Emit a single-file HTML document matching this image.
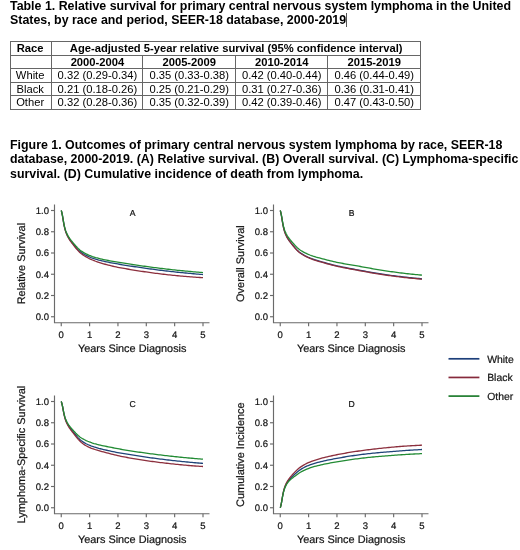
<!DOCTYPE html>
<html><head><meta charset="utf-8"><title>Table 1 / Figure 1</title>
<style>
html,body{margin:0;padding:0;background:#fff;}
#wrap{position:absolute;left:0;top:0;width:520px;height:550px;will-change:transform;}
body{width:520px;height:550px;position:relative;overflow:hidden;font-family:"Liberation Sans",sans-serif;color:#000;}
.cap{position:absolute;left:10px;font-weight:bold;font-size:12.4px;line-height:14.15px;white-space:nowrap;margin:0;}
#t1{top:-1.3px;}
#f1{top:138.2px;}
.cur{display:inline-block;width:1px;height:14px;background:#555;vertical-align:-3.5px;margin-left:-0.6px}
table{position:absolute;left:10px;top:41px;border-collapse:collapse;font-size:11.2px;line-height:12.6px;table-layout:fixed;width:410.5px;}
td,th{border:1px solid #666;padding:0;text-align:center;height:12.6px;white-space:nowrap;overflow:hidden}
th{font-weight:bold}
svg text{font-family:"Liberation Sans",sans-serif;text-rendering:geometricPrecision;}
td:first-child,th:first-child{padding-right:2px}
</style></head><body><div id="wrap">
<p class="cap" id="t1">Table 1. Relative survival for primary central nervous system lymphoma in the United<br>States, by race and period, SEER-18 database, 2000-2019<span class="cur"></span></p>
<table>
<colgroup><col style="width:41.3px"><col style="width:91.2px"><col style="width:92.5px"><col style="width:92.5px"><col style="width:92.5px"></colgroup>
<tr><th>Race</th><th colspan="4">Age-adjusted 5-year relative survival (95% confidence interval)</th></tr>
<tr><th></th><th>2000-2004</th><th>2005-2009</th><th>2010-2014</th><th>2015-2019</th></tr>
<tr><td>White</td><td>0.32 (0.29-0.34)</td><td>0.35 (0.33-0.38)</td><td>0.42 (0.40-0.44)</td><td>0.46 (0.44-0.49)</td></tr><tr><td>Black</td><td>0.21 (0.18-0.26)</td><td>0.25 (0.21-0.29)</td><td>0.31 (0.27-0.36)</td><td>0.36 (0.31-0.41)</td></tr><tr><td>Other</td><td>0.32 (0.28-0.36)</td><td>0.35 (0.32-0.39)</td><td>0.42 (0.39-0.46)</td><td>0.47 (0.43-0.50)</td></tr>
</table>
<p class="cap" id="f1">Figure 1. Outcomes of primary central nervous system lymphoma by race, SEER-18<br>database, 2000-2019. (A) Relative survival. (B) Overall survival. (C) Lymphoma-specific<br>survival. (D) Cumulative incidence of death from lymphoma.</p>
<svg width="520" height="550" viewBox="0 0 520 550" style="position:absolute;left:0;top:0" font-family="Liberation Sans, sans-serif" fill="#151515" stroke="#151515" stroke-width="0.22">
<g stroke="#6a6a6a" stroke-width="1.15" fill="none">
<path d="M54.50 204.50 V322.75 H209.50"/>
<path d="M51.00 316.75 H54.50"/>
<path d="M61.25 322.75 V326.25"/>
<path d="M51.00 295.50 H54.50"/>
<path d="M89.60 322.75 V326.25"/>
<path d="M51.00 274.25 H54.50"/>
<path d="M117.95 322.75 V326.25"/>
<path d="M51.00 253.00 H54.50"/>
<path d="M146.30 322.75 V326.25"/>
<path d="M51.00 231.75 H54.50"/>
<path d="M174.65 322.75 V326.25"/>
<path d="M51.00 210.50 H54.50"/>
<path d="M203.00 322.75 V326.25"/>
</g>
<g font-size="9.5">
<text x="49.00" y="320.15" text-anchor="end">0.0</text>
<text x="61.25" y="338.30" text-anchor="middle">0</text>
<text x="49.00" y="298.90" text-anchor="end">0.2</text>
<text x="89.60" y="338.30" text-anchor="middle">1</text>
<text x="49.00" y="277.65" text-anchor="end">0.4</text>
<text x="117.95" y="338.30" text-anchor="middle">2</text>
<text x="49.00" y="256.40" text-anchor="end">0.6</text>
<text x="146.30" y="338.30" text-anchor="middle">3</text>
<text x="49.00" y="235.15" text-anchor="end">0.8</text>
<text x="174.65" y="338.30" text-anchor="middle">4</text>
<text x="49.00" y="213.90" text-anchor="end">1.0</text>
<text x="203.00" y="338.30" text-anchor="middle">5</text>
</g>
<text x="132.20" y="351.80" text-anchor="middle" font-size="10.9">Years Since Diagnosis</text>
<text transform="translate(24.80 263.62) rotate(-90)" text-anchor="middle" font-size="10.95">Relative Survival</text>
<text x="132.50" y="215.50" text-anchor="middle" font-size="8.6">A</text>
<g fill="none" stroke-width="1.3" stroke-linejoin="round">
<path stroke="#1f4478" d="M61.25 210.50 L61.25 210.50 L61.26 210.52 L61.27 210.55 L61.29 210.60 L61.32 210.67 L61.35 210.76 L61.38 210.88 L61.42 211.02 L61.47 211.19 L61.52 211.38 L61.58 211.60 L61.64 211.86 L61.71 212.14 L61.78 212.46 L61.86 212.80 L61.95 213.18 L62.04 213.59 L62.13 214.03 L62.23 214.51 L62.34 215.04 L62.45 215.64 L62.57 216.29 L62.69 217.00 L62.82 217.76 L62.95 218.57 L63.09 219.42 L63.24 220.30 L63.39 221.21 L63.54 222.12 L63.70 223.04 L63.87 223.96 L64.04 224.86 L64.22 225.73 L64.40 226.58 L64.59 227.39 L64.78 228.18 L64.98 228.94 L65.19 229.67 L65.40 230.37 L65.61 231.05 L65.83 231.70 L66.06 232.33 L66.29 232.94 L66.53 233.52 L66.77 234.09 L67.02 234.65 L67.27 235.19 L67.53 235.71 L67.79 236.23 L68.06 236.73 L68.34 237.22 L68.62 237.71 L68.91 238.19 L69.20 238.66 L69.49 239.12 L69.80 239.58 L70.11 240.03 L70.42 240.48 L70.74 240.91 L71.06 241.35 L71.39 241.78 L71.73 242.21 L72.07 242.64 L72.41 243.08 L72.77 243.53 L73.12 243.97 L73.48 244.42 L73.85 244.88 L74.23 245.34 L74.61 245.80 L74.99 246.26 L75.38 246.72 L75.77 247.18 L76.17 247.65 L76.58 248.11 L76.99 248.57 L77.41 249.02 L77.83 249.47 L78.26 249.91 L79.84 251.39 L81.42 252.58 L83.00 253.61 L84.58 254.55 L86.15 255.40 L87.73 256.17 L89.31 256.88 L90.89 257.52 L92.47 258.11 L94.05 258.65 L95.63 259.15 L97.21 259.61 L98.79 260.05 L100.37 260.45 L101.94 260.84 L103.52 261.21 L105.10 261.56 L106.68 261.90 L108.26 262.22 L109.84 262.54 L111.42 262.84 L113.00 263.13 L114.58 263.42 L116.16 263.70 L117.73 263.97 L119.31 264.24 L120.89 264.51 L122.47 264.77 L124.05 265.02 L125.63 265.28 L127.21 265.53 L128.79 265.77 L130.37 266.02 L131.95 266.26 L133.52 266.50 L135.10 266.74 L136.68 266.98 L138.26 267.22 L139.84 267.45 L141.42 267.68 L143.00 267.91 L144.58 268.14 L146.16 268.36 L147.74 268.58 L149.31 268.80 L150.89 269.01 L152.47 269.22 L154.05 269.43 L155.63 269.64 L157.21 269.84 L158.79 270.04 L160.37 270.24 L161.95 270.43 L163.53 270.63 L165.10 270.81 L166.68 271.00 L168.26 271.18 L169.84 271.37 L171.42 271.54 L173.00 271.72 L174.58 271.89 L176.16 272.06 L177.74 272.23 L179.32 272.39 L180.89 272.55 L182.47 272.71 L184.05 272.87 L185.63 273.02 L187.21 273.17 L188.79 273.32 L190.37 273.47 L191.95 273.61 L193.53 273.76 L195.11 273.90 L196.68 274.03 L198.26 274.17 L199.84 274.30 L201.42 274.43 L203.00 274.56"/>
<path stroke="#8c2f3d" d="M61.25 210.50 L61.25 210.50 L61.26 210.52 L61.27 210.55 L61.29 210.60 L61.32 210.67 L61.35 210.77 L61.38 210.88 L61.42 211.03 L61.47 211.20 L61.52 211.40 L61.58 211.63 L61.64 211.88 L61.71 212.17 L61.78 212.49 L61.86 212.85 L61.95 213.23 L62.04 213.65 L62.13 214.10 L62.23 214.59 L62.34 215.13 L62.45 215.74 L62.57 216.40 L62.69 217.13 L62.82 217.90 L62.95 218.73 L63.09 219.59 L63.24 220.49 L63.39 221.41 L63.54 222.34 L63.70 223.28 L63.87 224.21 L64.04 225.12 L64.22 226.01 L64.40 226.87 L64.59 227.70 L64.78 228.50 L64.98 229.27 L65.19 230.02 L65.40 230.73 L65.61 231.42 L65.83 232.08 L66.06 232.72 L66.29 233.34 L66.53 233.94 L66.77 234.52 L67.02 235.08 L67.27 235.63 L67.53 236.16 L67.79 236.69 L68.06 237.20 L68.34 237.70 L68.62 238.20 L68.91 238.69 L69.20 239.17 L69.49 239.64 L69.80 240.11 L70.11 240.57 L70.42 241.02 L70.74 241.47 L71.06 241.92 L71.39 242.36 L71.73 242.80 L72.07 243.25 L72.41 243.70 L72.77 244.16 L73.12 244.63 L73.48 245.09 L73.85 245.57 L74.23 246.04 L74.61 246.52 L74.99 247.01 L75.38 247.50 L75.77 247.98 L76.17 248.47 L76.58 248.96 L76.99 249.45 L77.41 249.93 L77.83 250.41 L78.26 250.88 L79.84 252.47 L81.42 253.77 L83.00 254.91 L84.58 255.95 L86.15 256.91 L87.73 257.78 L89.31 258.59 L90.89 259.32 L92.47 260.00 L94.05 260.64 L95.63 261.24 L97.21 261.80 L98.79 262.34 L100.37 262.85 L101.94 263.34 L103.52 263.80 L105.10 264.25 L106.68 264.68 L108.26 265.10 L109.84 265.49 L111.42 265.88 L113.00 266.25 L114.58 266.60 L116.16 266.95 L117.73 267.28 L119.31 267.59 L120.89 267.90 L122.47 268.19 L124.05 268.46 L125.63 268.73 L127.21 269.00 L128.79 269.26 L130.37 269.52 L131.95 269.78 L133.52 270.03 L135.10 270.29 L136.68 270.54 L138.26 270.78 L139.84 271.03 L141.42 271.27 L143.00 271.50 L144.58 271.74 L146.16 271.97 L147.74 272.19 L149.31 272.42 L150.89 272.63 L152.47 272.85 L154.05 273.06 L155.63 273.27 L157.21 273.47 L158.79 273.67 L160.37 273.87 L161.95 274.06 L163.53 274.24 L165.10 274.43 L166.68 274.60 L168.26 274.78 L169.84 274.95 L171.42 275.12 L173.00 275.28 L174.58 275.44 L176.16 275.60 L177.74 275.75 L179.32 275.90 L180.89 276.04 L182.47 276.18 L184.05 276.32 L185.63 276.45 L187.21 276.58 L188.79 276.71 L190.37 276.83 L191.95 276.95 L193.53 277.07 L195.11 277.18 L196.68 277.29 L198.26 277.40 L199.84 277.50 L201.42 277.60 L203.00 277.70"/>
<path stroke="#228b34" d="M61.25 210.50 L61.25 210.50 L61.26 210.52 L61.27 210.55 L61.29 210.60 L61.32 210.66 L61.35 210.75 L61.38 210.87 L61.42 211.00 L61.47 211.17 L61.52 211.36 L61.58 211.57 L61.64 211.82 L61.71 212.09 L61.78 212.40 L61.86 212.73 L61.95 213.10 L62.04 213.50 L62.13 213.93 L62.23 214.39 L62.34 214.91 L62.45 215.48 L62.57 216.12 L62.69 216.81 L62.82 217.55 L62.95 218.33 L63.09 219.15 L63.24 220.01 L63.39 220.88 L63.54 221.77 L63.70 222.67 L63.87 223.55 L64.04 224.42 L64.22 225.27 L64.40 226.09 L64.59 226.88 L64.78 227.64 L64.98 228.37 L65.19 229.08 L65.40 229.76 L65.61 230.41 L65.83 231.04 L66.06 231.64 L66.29 232.23 L66.53 232.80 L66.77 233.34 L67.02 233.88 L67.27 234.39 L67.53 234.90 L67.79 235.39 L68.06 235.87 L68.34 236.35 L68.62 236.81 L68.91 237.27 L69.20 237.72 L69.49 238.16 L69.80 238.60 L70.11 239.03 L70.42 239.46 L70.74 239.87 L71.06 240.29 L71.39 240.70 L71.73 241.11 L72.07 241.53 L72.41 241.95 L72.77 242.37 L73.12 242.80 L73.48 243.23 L73.85 243.67 L74.23 244.11 L74.61 244.56 L74.99 245.00 L75.38 245.45 L75.77 245.90 L76.17 246.35 L76.58 246.80 L76.99 247.24 L77.41 247.69 L77.83 248.12 L78.26 248.55 L79.84 249.99 L81.42 251.15 L83.00 252.15 L84.58 253.06 L86.15 253.89 L87.73 254.64 L89.31 255.33 L90.89 255.95 L92.47 256.52 L94.05 257.04 L95.63 257.53 L97.21 257.98 L98.79 258.40 L100.37 258.80 L101.94 259.17 L103.52 259.53 L105.10 259.87 L106.68 260.20 L108.26 260.51 L109.84 260.81 L111.42 261.11 L113.00 261.39 L114.58 261.67 L116.16 261.94 L117.73 262.21 L119.31 262.47 L120.89 262.72 L122.47 262.98 L124.05 263.23 L125.63 263.47 L127.21 263.71 L128.79 263.96 L130.37 264.19 L131.95 264.43 L133.52 264.67 L135.10 264.90 L136.68 265.13 L138.26 265.36 L139.84 265.59 L141.42 265.81 L143.00 266.04 L144.58 266.26 L146.16 266.48 L147.74 266.69 L149.31 266.90 L150.89 267.11 L152.47 267.32 L154.05 267.53 L155.63 267.73 L157.21 267.93 L158.79 268.13 L160.37 268.32 L161.95 268.51 L163.53 268.70 L165.10 268.89 L166.68 269.07 L168.26 269.25 L169.84 269.43 L171.42 269.60 L173.00 269.78 L174.58 269.95 L176.16 270.11 L177.74 270.28 L179.32 270.44 L180.89 270.60 L182.47 270.76 L184.05 270.91 L185.63 271.06 L187.21 271.21 L188.79 271.36 L190.37 271.51 L191.95 271.65 L193.53 271.79 L195.11 271.93 L196.68 272.07 L198.26 272.20 L199.84 272.33 L201.42 272.46 L203.00 272.59"/>
</g>
<g stroke="#6a6a6a" stroke-width="1.15" fill="none">
<path d="M273.50 204.50 V322.75 H428.50"/>
<path d="M270.00 316.75 H273.50"/>
<path d="M280.25 322.75 V326.25"/>
<path d="M270.00 295.50 H273.50"/>
<path d="M308.60 322.75 V326.25"/>
<path d="M270.00 274.25 H273.50"/>
<path d="M336.95 322.75 V326.25"/>
<path d="M270.00 253.00 H273.50"/>
<path d="M365.30 322.75 V326.25"/>
<path d="M270.00 231.75 H273.50"/>
<path d="M393.65 322.75 V326.25"/>
<path d="M270.00 210.50 H273.50"/>
<path d="M422.00 322.75 V326.25"/>
</g>
<g font-size="9.5">
<text x="268.00" y="320.15" text-anchor="end">0.0</text>
<text x="280.25" y="338.30" text-anchor="middle">0</text>
<text x="268.00" y="298.90" text-anchor="end">0.2</text>
<text x="308.60" y="338.30" text-anchor="middle">1</text>
<text x="268.00" y="277.65" text-anchor="end">0.4</text>
<text x="336.95" y="338.30" text-anchor="middle">2</text>
<text x="268.00" y="256.40" text-anchor="end">0.6</text>
<text x="365.30" y="338.30" text-anchor="middle">3</text>
<text x="268.00" y="235.15" text-anchor="end">0.8</text>
<text x="393.65" y="338.30" text-anchor="middle">4</text>
<text x="268.00" y="213.90" text-anchor="end">1.0</text>
<text x="422.00" y="338.30" text-anchor="middle">5</text>
</g>
<text x="351.20" y="351.80" text-anchor="middle" font-size="10.9">Years Since Diagnosis</text>
<text transform="translate(243.80 263.62) rotate(-90)" text-anchor="middle" font-size="10.95">Overall Survival</text>
<text x="351.50" y="215.50" text-anchor="middle" font-size="8.6">B</text>
<g fill="none" stroke-width="1.3" stroke-linejoin="round">
<path stroke="#1f4478" d="M280.25 210.50 L280.25 210.50 L280.26 210.52 L280.27 210.55 L280.29 210.60 L280.32 210.67 L280.35 210.77 L280.38 210.89 L280.42 211.03 L280.47 211.20 L280.52 211.40 L280.58 211.63 L280.64 211.89 L280.71 212.18 L280.78 212.51 L280.86 212.86 L280.95 213.25 L281.04 213.67 L281.13 214.12 L281.23 214.61 L281.34 215.16 L281.45 215.76 L281.57 216.43 L281.69 217.16 L281.82 217.94 L281.95 218.76 L282.09 219.63 L282.24 220.53 L282.39 221.45 L282.54 222.38 L282.70 223.32 L282.87 224.25 L283.04 225.16 L283.22 226.05 L283.40 226.91 L283.59 227.73 L283.78 228.53 L283.98 229.30 L284.19 230.03 L284.40 230.74 L284.61 231.42 L284.83 232.08 L285.06 232.71 L285.29 233.32 L285.53 233.91 L285.77 234.48 L286.02 235.04 L286.27 235.58 L286.53 236.10 L286.79 236.61 L287.06 237.11 L287.34 237.60 L287.62 238.09 L287.91 238.56 L288.20 239.03 L288.49 239.49 L288.80 239.94 L289.11 240.39 L289.42 240.83 L289.74 241.26 L290.06 241.69 L290.39 242.11 L290.73 242.54 L291.07 242.97 L291.41 243.41 L291.77 243.85 L292.12 244.29 L292.48 244.74 L292.85 245.19 L293.23 245.64 L293.61 246.10 L293.99 246.56 L294.38 247.03 L294.77 247.49 L295.17 247.96 L295.58 248.42 L295.99 248.88 L296.41 249.33 L296.83 249.78 L297.26 250.22 L298.84 251.70 L300.42 252.90 L302.00 253.93 L303.58 254.88 L305.15 255.74 L306.73 256.54 L308.31 257.27 L309.89 257.94 L311.47 258.56 L313.05 259.13 L314.63 259.67 L316.21 260.17 L317.79 260.65 L319.37 261.11 L320.94 261.57 L322.52 262.03 L324.10 262.47 L325.68 262.91 L327.26 263.35 L328.84 263.78 L330.42 264.20 L332.00 264.61 L333.58 265.01 L335.16 265.39 L336.73 265.77 L338.31 266.13 L339.89 266.47 L341.47 266.80 L343.05 267.12 L344.63 267.43 L346.21 267.74 L347.79 268.05 L349.37 268.35 L350.95 268.64 L352.52 268.94 L354.10 269.23 L355.68 269.52 L357.26 269.81 L358.84 270.10 L360.42 270.38 L362.00 270.67 L363.58 270.96 L365.16 271.24 L366.74 271.53 L368.31 271.82 L369.89 272.11 L371.47 272.39 L373.05 272.67 L374.63 272.94 L376.21 273.21 L377.79 273.47 L379.37 273.72 L380.95 273.96 L382.53 274.20 L384.10 274.43 L385.68 274.65 L387.26 274.87 L388.84 275.09 L390.42 275.31 L392.00 275.52 L393.58 275.72 L395.16 275.93 L396.74 276.13 L398.32 276.33 L399.89 276.52 L401.47 276.71 L403.05 276.89 L404.63 277.08 L406.21 277.25 L407.79 277.43 L409.37 277.59 L410.95 277.76 L412.53 277.92 L414.11 278.07 L415.68 278.22 L417.26 278.37 L418.84 278.51 L420.42 278.65 L422.00 278.78"/>
<path stroke="#8c2f3d" d="M280.25 210.50 L280.25 210.50 L280.26 210.52 L280.27 210.55 L280.29 210.60 L280.32 210.68 L280.35 210.77 L280.38 210.89 L280.42 211.04 L280.47 211.21 L280.52 211.41 L280.58 211.65 L280.64 211.91 L280.71 212.20 L280.78 212.53 L280.86 212.89 L280.95 213.28 L281.04 213.70 L281.13 214.16 L281.23 214.66 L281.34 215.21 L281.45 215.82 L281.57 216.50 L281.69 217.23 L281.82 218.02 L281.95 218.85 L282.09 219.73 L282.24 220.64 L282.39 221.57 L282.54 222.51 L282.70 223.46 L282.87 224.40 L283.04 225.32 L283.22 226.21 L283.40 227.08 L283.59 227.91 L283.78 228.72 L283.98 229.49 L284.19 230.23 L284.40 230.95 L284.61 231.64 L284.83 232.30 L285.06 232.94 L285.29 233.55 L285.53 234.15 L285.77 234.72 L286.02 235.28 L286.27 235.82 L286.53 236.35 L286.79 236.87 L287.06 237.37 L287.34 237.87 L287.62 238.36 L287.91 238.83 L288.20 239.30 L288.49 239.77 L288.80 240.22 L289.11 240.67 L289.42 241.12 L289.74 241.55 L290.06 241.99 L290.39 242.41 L290.73 242.84 L291.07 243.28 L291.41 243.71 L291.77 244.16 L292.12 244.60 L292.48 245.06 L292.85 245.51 L293.23 245.97 L293.61 246.43 L293.99 246.89 L294.38 247.36 L294.77 247.83 L295.17 248.29 L295.58 248.76 L295.99 249.22 L296.41 249.68 L296.83 250.13 L297.26 250.58 L298.84 252.06 L300.42 253.27 L302.00 254.30 L303.58 255.25 L305.15 256.13 L306.73 256.92 L308.31 257.66 L309.89 258.33 L311.47 258.95 L313.05 259.53 L314.63 260.07 L316.21 260.57 L317.79 261.05 L319.37 261.52 L320.94 261.98 L322.52 262.43 L324.10 262.88 L325.68 263.32 L327.26 263.76 L328.84 264.18 L330.42 264.60 L332.00 265.01 L333.58 265.41 L335.16 265.80 L336.73 266.17 L338.31 266.53 L339.89 266.87 L341.47 267.20 L343.05 267.52 L344.63 267.84 L346.21 268.15 L347.79 268.45 L349.37 268.75 L350.95 269.05 L352.52 269.34 L354.10 269.64 L355.68 269.93 L357.26 270.22 L358.84 270.50 L360.42 270.79 L362.00 271.08 L363.58 271.36 L365.16 271.65 L366.74 271.94 L368.31 272.23 L369.89 272.51 L371.47 272.79 L373.05 273.07 L374.63 273.35 L376.21 273.61 L377.79 273.87 L379.37 274.13 L380.95 274.37 L382.53 274.60 L384.10 274.83 L385.68 275.05 L387.26 275.27 L388.84 275.49 L390.42 275.71 L392.00 275.92 L393.58 276.13 L395.16 276.33 L396.74 276.53 L398.32 276.73 L399.89 276.92 L401.47 277.11 L403.05 277.29 L404.63 277.48 L406.21 277.65 L407.79 277.83 L409.37 277.99 L410.95 278.16 L412.53 278.32 L414.11 278.47 L415.68 278.62 L417.26 278.77 L418.84 278.91 L420.42 279.04 L422.00 279.18"/>
<path stroke="#228b34" d="M280.25 210.50 L280.25 210.50 L280.26 210.52 L280.27 210.55 L280.29 210.60 L280.32 210.66 L280.35 210.75 L280.38 210.86 L280.42 211.00 L280.47 211.16 L280.52 211.34 L280.58 211.56 L280.64 211.80 L280.71 212.07 L280.78 212.37 L280.86 212.70 L280.95 213.06 L281.04 213.45 L281.13 213.88 L281.23 214.33 L281.34 214.84 L281.45 215.40 L281.57 216.03 L281.69 216.70 L281.82 217.43 L281.95 218.20 L282.09 219.01 L282.24 219.85 L282.39 220.71 L282.54 221.58 L282.70 222.46 L282.87 223.33 L283.04 224.18 L283.22 225.01 L283.40 225.82 L283.59 226.59 L283.78 227.33 L283.98 228.05 L284.19 228.74 L284.40 229.40 L284.61 230.04 L284.83 230.66 L285.06 231.25 L285.29 231.82 L285.53 232.37 L285.77 232.91 L286.02 233.42 L286.27 233.93 L286.53 234.42 L286.79 234.90 L287.06 235.37 L287.34 235.82 L287.62 236.28 L287.91 236.72 L288.20 237.16 L288.49 237.58 L288.80 238.01 L289.11 238.42 L289.42 238.83 L289.74 239.24 L290.06 239.64 L290.39 240.03 L290.73 240.43 L291.07 240.84 L291.41 241.24 L291.77 241.65 L292.12 242.07 L292.48 242.49 L292.85 242.91 L293.23 243.34 L293.61 243.77 L293.99 244.20 L294.38 244.63 L294.77 245.07 L295.17 245.51 L295.58 245.94 L295.99 246.38 L296.41 246.81 L296.83 247.23 L297.26 247.65 L298.84 249.05 L300.42 250.20 L302.00 251.18 L303.58 252.08 L305.15 252.91 L306.73 253.66 L308.31 254.36 L309.89 254.99 L311.47 255.57 L313.05 256.11 L314.63 256.61 L316.21 257.09 L317.79 257.53 L319.37 257.96 L320.94 258.39 L322.52 258.81 L324.10 259.23 L325.68 259.64 L327.26 260.04 L328.84 260.43 L330.42 260.82 L332.00 261.20 L333.58 261.57 L335.16 261.92 L336.73 262.27 L338.31 262.60 L339.89 262.91 L341.47 263.21 L343.05 263.50 L344.63 263.79 L346.21 264.07 L347.79 264.35 L349.37 264.62 L350.95 264.89 L352.52 265.16 L354.10 265.43 L355.68 265.69 L357.26 265.96 L358.84 266.23 L360.42 266.50 L362.00 266.77 L363.58 267.04 L365.16 267.32 L366.74 267.61 L368.31 267.90 L369.89 268.20 L371.47 268.49 L373.05 268.78 L374.63 269.07 L376.21 269.35 L377.79 269.63 L379.37 269.89 L380.95 270.15 L382.53 270.39 L384.10 270.63 L385.68 270.86 L387.26 271.09 L388.84 271.31 L390.42 271.54 L392.00 271.76 L393.58 271.97 L395.16 272.18 L396.74 272.39 L398.32 272.60 L399.89 272.80 L401.47 272.99 L403.05 273.19 L404.63 273.37 L406.21 273.56 L407.79 273.74 L409.37 273.91 L410.95 274.08 L412.53 274.25 L414.11 274.41 L415.68 274.57 L417.26 274.72 L418.84 274.87 L420.42 275.01 L422.00 275.15"/>
</g>
<g stroke="#6a6a6a" stroke-width="1.15" fill="none">
<path d="M54.50 395.50 V513.75 H209.50"/>
<path d="M51.00 507.75 H54.50"/>
<path d="M61.25 513.75 V517.25"/>
<path d="M51.00 486.50 H54.50"/>
<path d="M89.60 513.75 V517.25"/>
<path d="M51.00 465.25 H54.50"/>
<path d="M117.95 513.75 V517.25"/>
<path d="M51.00 444.00 H54.50"/>
<path d="M146.30 513.75 V517.25"/>
<path d="M51.00 422.75 H54.50"/>
<path d="M174.65 513.75 V517.25"/>
<path d="M51.00 401.50 H54.50"/>
<path d="M203.00 513.75 V517.25"/>
</g>
<g font-size="9.5">
<text x="49.00" y="511.15" text-anchor="end">0.0</text>
<text x="61.25" y="529.30" text-anchor="middle">0</text>
<text x="49.00" y="489.90" text-anchor="end">0.2</text>
<text x="89.60" y="529.30" text-anchor="middle">1</text>
<text x="49.00" y="468.65" text-anchor="end">0.4</text>
<text x="117.95" y="529.30" text-anchor="middle">2</text>
<text x="49.00" y="447.40" text-anchor="end">0.6</text>
<text x="146.30" y="529.30" text-anchor="middle">3</text>
<text x="49.00" y="426.15" text-anchor="end">0.8</text>
<text x="174.65" y="529.30" text-anchor="middle">4</text>
<text x="49.00" y="404.90" text-anchor="end">1.0</text>
<text x="203.00" y="529.30" text-anchor="middle">5</text>
</g>
<text x="132.20" y="542.80" text-anchor="middle" font-size="10.9">Years Since Diagnosis</text>
<text transform="translate(24.80 454.62) rotate(-90)" text-anchor="middle" font-size="10.95">Lymphoma-Specific Survival</text>
<text x="132.50" y="406.50" text-anchor="middle" font-size="8.6">C</text>
<g fill="none" stroke-width="1.3" stroke-linejoin="round">
<path stroke="#1f4478" d="M61.25 401.50 L61.25 401.50 L61.26 401.52 L61.27 401.54 L61.29 401.59 L61.32 401.65 L61.35 401.73 L61.38 401.83 L61.42 401.95 L61.47 402.10 L61.52 402.27 L61.58 402.47 L61.64 402.69 L61.71 402.94 L61.78 403.21 L61.86 403.51 L61.95 403.85 L62.04 404.21 L62.13 404.60 L62.23 405.02 L62.34 405.48 L62.45 406.01 L62.57 406.58 L62.69 407.21 L62.82 407.88 L62.95 408.60 L63.09 409.35 L63.24 410.13 L63.39 410.93 L63.54 411.75 L63.70 412.57 L63.87 413.38 L64.04 414.19 L64.22 414.97 L64.40 415.73 L64.59 416.46 L64.78 417.17 L64.98 417.85 L65.19 418.51 L65.40 419.14 L65.61 419.75 L65.83 420.35 L66.06 420.92 L66.29 421.47 L66.53 422.01 L66.77 422.53 L67.02 423.04 L67.27 423.53 L67.53 424.01 L67.79 424.49 L68.06 424.95 L68.34 425.41 L68.62 425.86 L68.91 426.31 L69.20 426.75 L69.49 427.18 L69.80 427.61 L70.11 428.03 L70.42 428.45 L70.74 428.87 L71.06 429.28 L71.39 429.69 L71.73 430.10 L72.07 430.52 L72.41 430.94 L72.77 431.37 L73.12 431.80 L73.48 432.24 L73.85 432.68 L74.23 433.14 L74.61 433.59 L74.99 434.05 L75.38 434.52 L75.77 435.00 L76.17 435.47 L76.58 435.95 L76.99 436.43 L77.41 436.90 L77.83 437.37 L78.26 437.84 L79.84 439.43 L81.42 440.75 L83.00 441.88 L84.58 442.88 L86.15 443.74 L87.73 444.51 L89.31 445.21 L90.89 445.85 L92.47 446.43 L94.05 446.96 L95.63 447.45 L97.21 447.91 L98.79 448.35 L100.37 448.75 L101.94 449.15 L103.52 449.52 L105.10 449.89 L106.68 450.25 L108.26 450.61 L109.84 450.96 L111.42 451.30 L113.00 451.63 L114.58 451.96 L116.16 452.28 L117.73 452.59 L119.31 452.88 L120.89 453.17 L122.47 453.45 L124.05 453.71 L125.63 453.97 L127.21 454.23 L128.79 454.48 L130.37 454.73 L131.95 454.98 L133.52 455.22 L135.10 455.47 L136.68 455.71 L138.26 455.95 L139.84 456.19 L141.42 456.42 L143.00 456.66 L144.58 456.89 L146.16 457.11 L147.74 457.34 L149.31 457.56 L150.89 457.78 L152.47 457.99 L154.05 458.21 L155.63 458.42 L157.21 458.62 L158.79 458.83 L160.37 459.03 L161.95 459.23 L163.53 459.42 L165.10 459.62 L166.68 459.81 L168.26 459.99 L169.84 460.18 L171.42 460.36 L173.00 460.53 L174.58 460.71 L176.16 460.88 L177.74 461.05 L179.32 461.22 L180.89 461.38 L182.47 461.54 L184.05 461.70 L185.63 461.85 L187.21 462.01 L188.79 462.16 L190.37 462.31 L191.95 462.45 L193.53 462.59 L195.11 462.73 L196.68 462.87 L198.26 463.00 L199.84 463.14 L201.42 463.27 L203.00 463.39"/>
<path stroke="#8c2f3d" d="M61.25 401.50 L61.25 401.50 L61.26 401.52 L61.27 401.55 L61.29 401.59 L61.32 401.65 L61.35 401.74 L61.38 401.84 L61.42 401.97 L61.47 402.12 L61.52 402.30 L61.58 402.50 L61.64 402.73 L61.71 402.98 L61.78 403.27 L61.86 403.58 L61.95 403.92 L62.04 404.30 L62.13 404.70 L62.23 405.13 L62.34 405.62 L62.45 406.16 L62.57 406.75 L62.69 407.40 L62.82 408.09 L62.95 408.83 L63.09 409.61 L63.24 410.41 L63.39 411.24 L63.54 412.08 L63.70 412.92 L63.87 413.77 L64.04 414.59 L64.22 415.40 L64.40 416.18 L64.59 416.94 L64.78 417.67 L64.98 418.37 L65.19 419.05 L65.40 419.71 L65.61 420.34 L65.83 420.95 L66.06 421.54 L66.29 422.11 L66.53 422.67 L66.77 423.21 L67.02 423.73 L67.27 424.25 L67.53 424.75 L67.79 425.24 L68.06 425.72 L68.34 426.20 L68.62 426.67 L68.91 427.13 L69.20 427.59 L69.49 428.04 L69.80 428.49 L70.11 428.94 L70.42 429.38 L70.74 429.81 L71.06 430.25 L71.39 430.68 L71.73 431.12 L72.07 431.56 L72.41 432.01 L72.77 432.47 L73.12 432.94 L73.48 433.41 L73.85 433.88 L74.23 434.37 L74.61 434.86 L74.99 435.35 L75.38 435.85 L75.77 436.35 L76.17 436.85 L76.58 437.35 L76.99 437.85 L77.41 438.35 L77.83 438.84 L78.26 439.33 L79.84 441.03 L81.42 442.48 L83.00 443.74 L84.58 444.85 L86.15 445.78 L87.73 446.61 L89.31 447.36 L90.89 448.04 L92.47 448.66 L94.05 449.23 L95.63 449.75 L97.21 450.24 L98.79 450.70 L100.37 451.14 L101.94 451.57 L103.52 451.99 L105.10 452.40 L106.68 452.82 L108.26 453.23 L109.84 453.64 L111.42 454.05 L113.00 454.46 L114.58 454.85 L116.16 455.24 L117.73 455.61 L119.31 455.97 L120.89 456.30 L122.47 456.62 L124.05 456.92 L125.63 457.21 L127.21 457.49 L128.79 457.77 L130.37 458.04 L131.95 458.32 L133.52 458.59 L135.10 458.85 L136.68 459.11 L138.26 459.37 L139.84 459.63 L141.42 459.88 L143.00 460.13 L144.58 460.37 L146.16 460.60 L147.74 460.84 L149.31 461.06 L150.89 461.29 L152.47 461.50 L154.05 461.71 L155.63 461.92 L157.21 462.12 L158.79 462.32 L160.37 462.52 L161.95 462.71 L163.53 462.90 L165.10 463.09 L166.68 463.27 L168.26 463.45 L169.84 463.63 L171.42 463.80 L173.00 463.97 L174.58 464.14 L176.16 464.30 L177.74 464.46 L179.32 464.62 L180.89 464.77 L182.47 464.92 L184.05 465.07 L185.63 465.21 L187.21 465.35 L188.79 465.48 L190.37 465.61 L191.95 465.74 L193.53 465.86 L195.11 465.98 L196.68 466.09 L198.26 466.20 L199.84 466.31 L201.42 466.41 L203.00 466.51"/>
<path stroke="#228b34" d="M61.25 401.50 L61.25 401.50 L61.26 401.52 L61.27 401.54 L61.29 401.58 L61.32 401.64 L61.35 401.72 L61.38 401.82 L61.42 401.93 L61.47 402.07 L61.52 402.24 L61.58 402.42 L61.64 402.63 L61.71 402.87 L61.78 403.14 L61.86 403.43 L61.95 403.74 L62.04 404.09 L62.13 404.46 L62.23 404.86 L62.34 405.31 L62.45 405.81 L62.57 406.36 L62.69 406.96 L62.82 407.60 L62.95 408.28 L63.09 409.00 L63.24 409.75 L63.39 410.52 L63.54 411.30 L63.70 412.08 L63.87 412.86 L64.04 413.63 L64.22 414.38 L64.40 415.10 L64.59 415.80 L64.78 416.48 L64.98 417.13 L65.19 417.76 L65.40 418.37 L65.61 418.95 L65.83 419.51 L66.06 420.06 L66.29 420.59 L66.53 421.10 L66.77 421.59 L67.02 422.07 L67.27 422.54 L67.53 423.00 L67.79 423.45 L68.06 423.89 L68.34 424.32 L68.62 424.75 L68.91 425.17 L69.20 425.58 L69.49 425.99 L69.80 426.39 L70.11 426.78 L70.42 427.17 L70.74 427.56 L71.06 427.94 L71.39 428.32 L71.73 428.70 L72.07 429.09 L72.41 429.48 L72.77 429.87 L73.12 430.27 L73.48 430.67 L73.85 431.08 L74.23 431.49 L74.61 431.90 L74.99 432.31 L75.38 432.73 L75.77 433.15 L76.17 433.56 L76.58 433.98 L76.99 434.39 L77.41 434.80 L77.83 435.20 L78.26 435.60 L79.84 436.93 L81.42 438.01 L83.00 438.94 L84.58 439.78 L86.15 440.55 L87.73 441.26 L89.31 441.90 L90.89 442.48 L92.47 443.02 L94.05 443.51 L95.63 443.96 L97.21 444.39 L98.79 444.78 L100.37 445.16 L101.94 445.51 L103.52 445.85 L105.10 446.18 L106.68 446.50 L108.26 446.81 L109.84 447.13 L111.42 447.44 L113.00 447.75 L114.58 448.06 L116.16 448.36 L117.73 448.66 L119.31 448.96 L120.89 449.25 L122.47 449.54 L124.05 449.82 L125.63 450.09 L127.21 450.36 L128.79 450.62 L130.37 450.87 L131.95 451.11 L133.52 451.34 L135.10 451.58 L136.68 451.81 L138.26 452.03 L139.84 452.26 L141.42 452.48 L143.00 452.70 L144.58 452.92 L146.16 453.14 L147.74 453.35 L149.31 453.57 L150.89 453.77 L152.47 453.98 L154.05 454.18 L155.63 454.39 L157.21 454.58 L158.79 454.78 L160.37 454.97 L161.95 455.16 L163.53 455.35 L165.10 455.53 L166.68 455.72 L168.26 455.90 L169.84 456.07 L171.42 456.25 L173.00 456.42 L174.58 456.59 L176.16 456.75 L177.74 456.92 L179.32 457.08 L180.89 457.23 L182.47 457.39 L184.05 457.54 L185.63 457.69 L187.21 457.84 L188.79 457.99 L190.37 458.13 L191.95 458.27 L193.53 458.41 L195.11 458.55 L196.68 458.68 L198.26 458.81 L199.84 458.94 L201.42 459.07 L203.00 459.20"/>
</g>
<g stroke="#6a6a6a" stroke-width="1.15" fill="none">
<path d="M273.50 395.50 V513.75 H428.50"/>
<path d="M270.00 507.75 H273.50"/>
<path d="M280.25 513.75 V517.25"/>
<path d="M270.00 486.50 H273.50"/>
<path d="M308.60 513.75 V517.25"/>
<path d="M270.00 465.25 H273.50"/>
<path d="M336.95 513.75 V517.25"/>
<path d="M270.00 444.00 H273.50"/>
<path d="M365.30 513.75 V517.25"/>
<path d="M270.00 422.75 H273.50"/>
<path d="M393.65 513.75 V517.25"/>
<path d="M270.00 401.50 H273.50"/>
<path d="M422.00 513.75 V517.25"/>
</g>
<g font-size="9.5">
<text x="268.00" y="511.15" text-anchor="end">0.0</text>
<text x="280.25" y="529.30" text-anchor="middle">0</text>
<text x="268.00" y="489.90" text-anchor="end">0.2</text>
<text x="308.60" y="529.30" text-anchor="middle">1</text>
<text x="268.00" y="468.65" text-anchor="end">0.4</text>
<text x="336.95" y="529.30" text-anchor="middle">2</text>
<text x="268.00" y="447.40" text-anchor="end">0.6</text>
<text x="365.30" y="529.30" text-anchor="middle">3</text>
<text x="268.00" y="426.15" text-anchor="end">0.8</text>
<text x="393.65" y="529.30" text-anchor="middle">4</text>
<text x="268.00" y="404.90" text-anchor="end">1.0</text>
<text x="422.00" y="529.30" text-anchor="middle">5</text>
</g>
<text x="351.20" y="542.80" text-anchor="middle" font-size="10.9">Years Since Diagnosis</text>
<text transform="translate(243.80 454.62) rotate(-90)" text-anchor="middle" font-size="10.95">Cumulative Incidence</text>
<text x="351.50" y="406.50" text-anchor="middle" font-size="8.6">D</text>
<g fill="none" stroke-width="1.3" stroke-linejoin="round">
<path stroke="#1f4478" d="M280.25 507.75 L280.25 507.75 L280.26 507.73 L280.27 507.70 L280.29 507.65 L280.32 507.59 L280.35 507.50 L280.38 507.38 L280.42 507.25 L280.47 507.08 L280.52 506.89 L280.58 506.68 L280.64 506.43 L280.71 506.16 L280.78 505.85 L280.86 505.52 L280.95 505.15 L281.04 504.75 L281.13 504.32 L281.23 503.86 L281.34 503.34 L281.45 502.77 L281.57 502.14 L281.69 501.45 L281.82 500.71 L281.95 499.93 L282.09 499.11 L282.24 498.26 L282.39 497.38 L282.54 496.50 L282.70 495.61 L282.87 494.73 L283.04 493.87 L283.22 493.03 L283.40 492.21 L283.59 491.43 L283.78 490.68 L283.98 489.96 L284.19 489.27 L284.40 488.60 L284.61 487.96 L284.83 487.34 L285.06 486.75 L285.29 486.18 L285.53 485.63 L285.77 485.10 L286.02 484.58 L286.27 484.09 L286.53 483.61 L286.79 483.15 L287.06 482.70 L287.34 482.26 L287.62 481.84 L287.91 481.42 L288.20 481.02 L288.49 480.63 L288.80 480.25 L289.11 479.87 L289.42 479.51 L289.74 479.15 L290.06 478.79 L290.39 478.44 L290.73 478.09 L291.07 477.73 L291.41 477.38 L291.77 477.03 L292.12 476.68 L292.48 476.33 L292.85 475.98 L293.23 475.63 L293.61 475.28 L293.99 474.93 L294.38 474.57 L294.77 474.22 L295.17 473.86 L295.58 473.50 L295.99 473.14 L296.41 472.78 L296.83 472.42 L297.26 472.05 L298.84 470.73 L300.42 469.61 L302.00 468.64 L303.58 467.75 L305.15 466.94 L306.73 466.19 L308.31 465.52 L309.89 464.90 L311.47 464.33 L313.05 463.80 L314.63 463.31 L316.21 462.86 L317.79 462.42 L319.37 462.02 L320.94 461.63 L322.52 461.26 L324.10 460.90 L325.68 460.56 L327.26 460.23 L328.84 459.90 L330.42 459.58 L332.00 459.27 L333.58 458.97 L335.16 458.67 L336.73 458.38 L338.31 458.09 L339.89 457.81 L341.47 457.53 L343.05 457.26 L344.63 456.99 L346.21 456.73 L347.79 456.48 L349.37 456.23 L350.95 455.98 L352.52 455.75 L354.10 455.51 L355.68 455.29 L357.26 455.07 L358.84 454.86 L360.42 454.65 L362.00 454.46 L363.58 454.26 L365.16 454.08 L366.74 453.89 L368.31 453.72 L369.89 453.55 L371.47 453.38 L373.05 453.22 L374.63 453.06 L376.21 452.91 L377.79 452.76 L379.37 452.62 L380.95 452.47 L382.53 452.33 L384.10 452.20 L385.68 452.06 L387.26 451.93 L388.84 451.80 L390.42 451.67 L392.00 451.54 L393.58 451.42 L395.16 451.29 L396.74 451.17 L398.32 451.04 L399.89 450.92 L401.47 450.81 L403.05 450.69 L404.63 450.58 L406.21 450.47 L407.79 450.37 L409.37 450.26 L410.95 450.16 L412.53 450.06 L414.11 449.97 L415.68 449.87 L417.26 449.78 L418.84 449.69 L420.42 449.60 L422.00 449.52"/>
<path stroke="#8c2f3d" d="M280.25 507.75 L280.25 507.75 L280.26 507.73 L280.27 507.70 L280.29 507.65 L280.32 507.58 L280.35 507.49 L280.38 507.37 L280.42 507.23 L280.47 507.06 L280.52 506.87 L280.58 506.65 L280.64 506.39 L280.71 506.11 L280.78 505.80 L280.86 505.45 L280.95 505.07 L281.04 504.66 L281.13 504.22 L281.23 503.75 L281.34 503.22 L281.45 502.63 L281.57 501.97 L281.69 501.27 L281.82 500.51 L281.95 499.71 L282.09 498.86 L282.24 497.99 L282.39 497.09 L282.54 496.18 L282.70 495.27 L282.87 494.36 L283.04 493.47 L283.22 492.61 L283.40 491.77 L283.59 490.97 L283.78 490.19 L283.98 489.45 L284.19 488.73 L284.40 488.04 L284.61 487.38 L284.83 486.74 L285.06 486.13 L285.29 485.53 L285.53 484.96 L285.77 484.41 L286.02 483.87 L286.27 483.35 L286.53 482.84 L286.79 482.34 L287.06 481.86 L287.34 481.38 L287.62 480.91 L287.91 480.45 L288.20 480.00 L288.49 479.56 L288.80 479.12 L289.11 478.69 L289.42 478.27 L289.74 477.86 L290.06 477.45 L290.39 477.04 L290.73 476.64 L291.07 476.24 L291.41 475.83 L291.77 475.43 L292.12 475.02 L292.48 474.62 L292.85 474.21 L293.23 473.80 L293.61 473.40 L293.99 472.99 L294.38 472.58 L294.77 472.17 L295.17 471.76 L295.58 471.35 L295.99 470.94 L296.41 470.54 L296.83 470.13 L297.26 469.73 L298.84 468.32 L300.42 467.14 L302.00 466.10 L303.58 465.13 L305.15 464.25 L306.73 463.44 L308.31 462.70 L309.89 462.03 L311.47 461.40 L313.05 460.83 L314.63 460.28 L316.21 459.78 L317.79 459.30 L319.37 458.84 L320.94 458.41 L322.52 457.99 L324.10 457.59 L325.68 457.20 L327.26 456.83 L328.84 456.46 L330.42 456.10 L332.00 455.75 L333.58 455.41 L335.16 455.08 L336.73 454.76 L338.31 454.45 L339.89 454.15 L341.47 453.86 L343.05 453.57 L344.63 453.28 L346.21 453.00 L347.79 452.72 L349.37 452.46 L350.95 452.19 L352.52 451.94 L354.10 451.70 L355.68 451.47 L357.26 451.24 L358.84 451.01 L360.42 450.79 L362.00 450.58 L363.58 450.36 L365.16 450.15 L366.74 449.95 L368.31 449.75 L369.89 449.55 L371.47 449.36 L373.05 449.17 L374.63 448.98 L376.21 448.80 L377.79 448.62 L379.37 448.45 L380.95 448.28 L382.53 448.11 L384.10 447.95 L385.68 447.79 L387.26 447.63 L388.84 447.48 L390.42 447.32 L392.00 447.18 L393.58 447.03 L395.16 446.89 L396.74 446.75 L398.32 446.62 L399.89 446.49 L401.47 446.37 L403.05 446.25 L404.63 446.14 L406.21 446.04 L407.79 445.94 L409.37 445.84 L410.95 445.75 L412.53 445.66 L414.11 445.57 L415.68 445.49 L417.26 445.41 L418.84 445.34 L420.42 445.27 L422.00 445.20"/>
<path stroke="#228b34" d="M280.25 507.75 L280.25 507.75 L280.26 507.73 L280.27 507.70 L280.29 507.66 L280.32 507.59 L280.35 507.50 L280.38 507.39 L280.42 507.26 L280.47 507.10 L280.52 506.92 L280.58 506.71 L280.64 506.47 L280.71 506.21 L280.78 505.91 L280.86 505.59 L280.95 505.23 L281.04 504.84 L281.13 504.43 L281.23 503.98 L281.34 503.48 L281.45 502.92 L281.57 502.31 L281.69 501.65 L281.82 500.93 L281.95 500.17 L282.09 499.38 L282.24 498.56 L282.39 497.71 L282.54 496.86 L282.70 496.00 L282.87 495.14 L283.04 494.31 L283.22 493.50 L283.40 492.71 L283.59 491.96 L283.78 491.23 L283.98 490.53 L284.19 489.86 L284.40 489.22 L284.61 488.61 L284.83 488.02 L285.06 487.45 L285.29 486.90 L285.53 486.38 L285.77 485.87 L286.02 485.38 L286.27 484.91 L286.53 484.46 L286.79 484.02 L287.06 483.59 L287.34 483.17 L287.62 482.77 L287.91 482.38 L288.20 482.00 L288.49 481.64 L288.80 481.29 L289.11 480.96 L289.42 480.64 L289.74 480.33 L290.06 480.03 L290.39 479.73 L290.73 479.43 L291.07 479.13 L291.41 478.83 L291.77 478.54 L292.12 478.24 L292.48 477.96 L292.85 477.67 L293.23 477.38 L293.61 477.10 L293.99 476.81 L294.38 476.52 L294.77 476.24 L295.17 475.95 L295.58 475.65 L295.99 475.36 L296.41 475.06 L296.83 474.75 L297.26 474.44 L298.84 473.27 L300.42 472.26 L302.00 471.39 L303.58 470.60 L305.15 469.86 L306.73 469.18 L308.31 468.55 L309.89 467.97 L311.47 467.44 L313.05 466.95 L314.63 466.49 L316.21 466.06 L317.79 465.66 L319.37 465.27 L320.94 464.91 L322.52 464.56 L324.10 464.23 L325.68 463.91 L327.26 463.59 L328.84 463.28 L330.42 462.98 L332.00 462.69 L333.58 462.40 L335.16 462.12 L336.73 461.85 L338.31 461.59 L339.89 461.33 L341.47 461.08 L343.05 460.84 L344.63 460.59 L346.21 460.35 L347.79 460.11 L349.37 459.88 L350.95 459.65 L352.52 459.42 L354.10 459.20 L355.68 458.98 L357.26 458.77 L358.84 458.57 L360.42 458.37 L362.00 458.18 L363.58 458.00 L365.16 457.82 L366.74 457.64 L368.31 457.47 L369.89 457.31 L371.47 457.15 L373.05 457.00 L374.63 456.85 L376.21 456.71 L377.79 456.57 L379.37 456.43 L380.95 456.29 L382.53 456.16 L384.10 456.03 L385.68 455.91 L387.26 455.79 L388.84 455.66 L390.42 455.54 L392.00 455.43 L393.58 455.31 L395.16 455.19 L396.74 455.08 L398.32 454.96 L399.89 454.86 L401.47 454.75 L403.05 454.65 L404.63 454.55 L406.21 454.45 L407.79 454.36 L409.37 454.26 L410.95 454.18 L412.53 454.09 L414.11 454.01 L415.68 453.93 L417.26 453.85 L418.84 453.78 L420.42 453.70 L422.00 453.63"/>
</g>
<path d="M448.5 358.80 H479.4" stroke="#1d3f7a" stroke-width="1.7" fill="none"/>
<text x="487.2" y="362.50" font-size="10.4">White</text>
<path d="M448.5 377.45 H479.4" stroke="#862a3c" stroke-width="1.7" fill="none"/>
<text x="487.2" y="381.15" font-size="10.4">Black</text>
<path d="M448.5 396.10 H479.4" stroke="#1f7d2e" stroke-width="1.7" fill="none"/>
<text x="487.2" y="399.80" font-size="10.4">Other</text>
</svg>
</div></body></html>
